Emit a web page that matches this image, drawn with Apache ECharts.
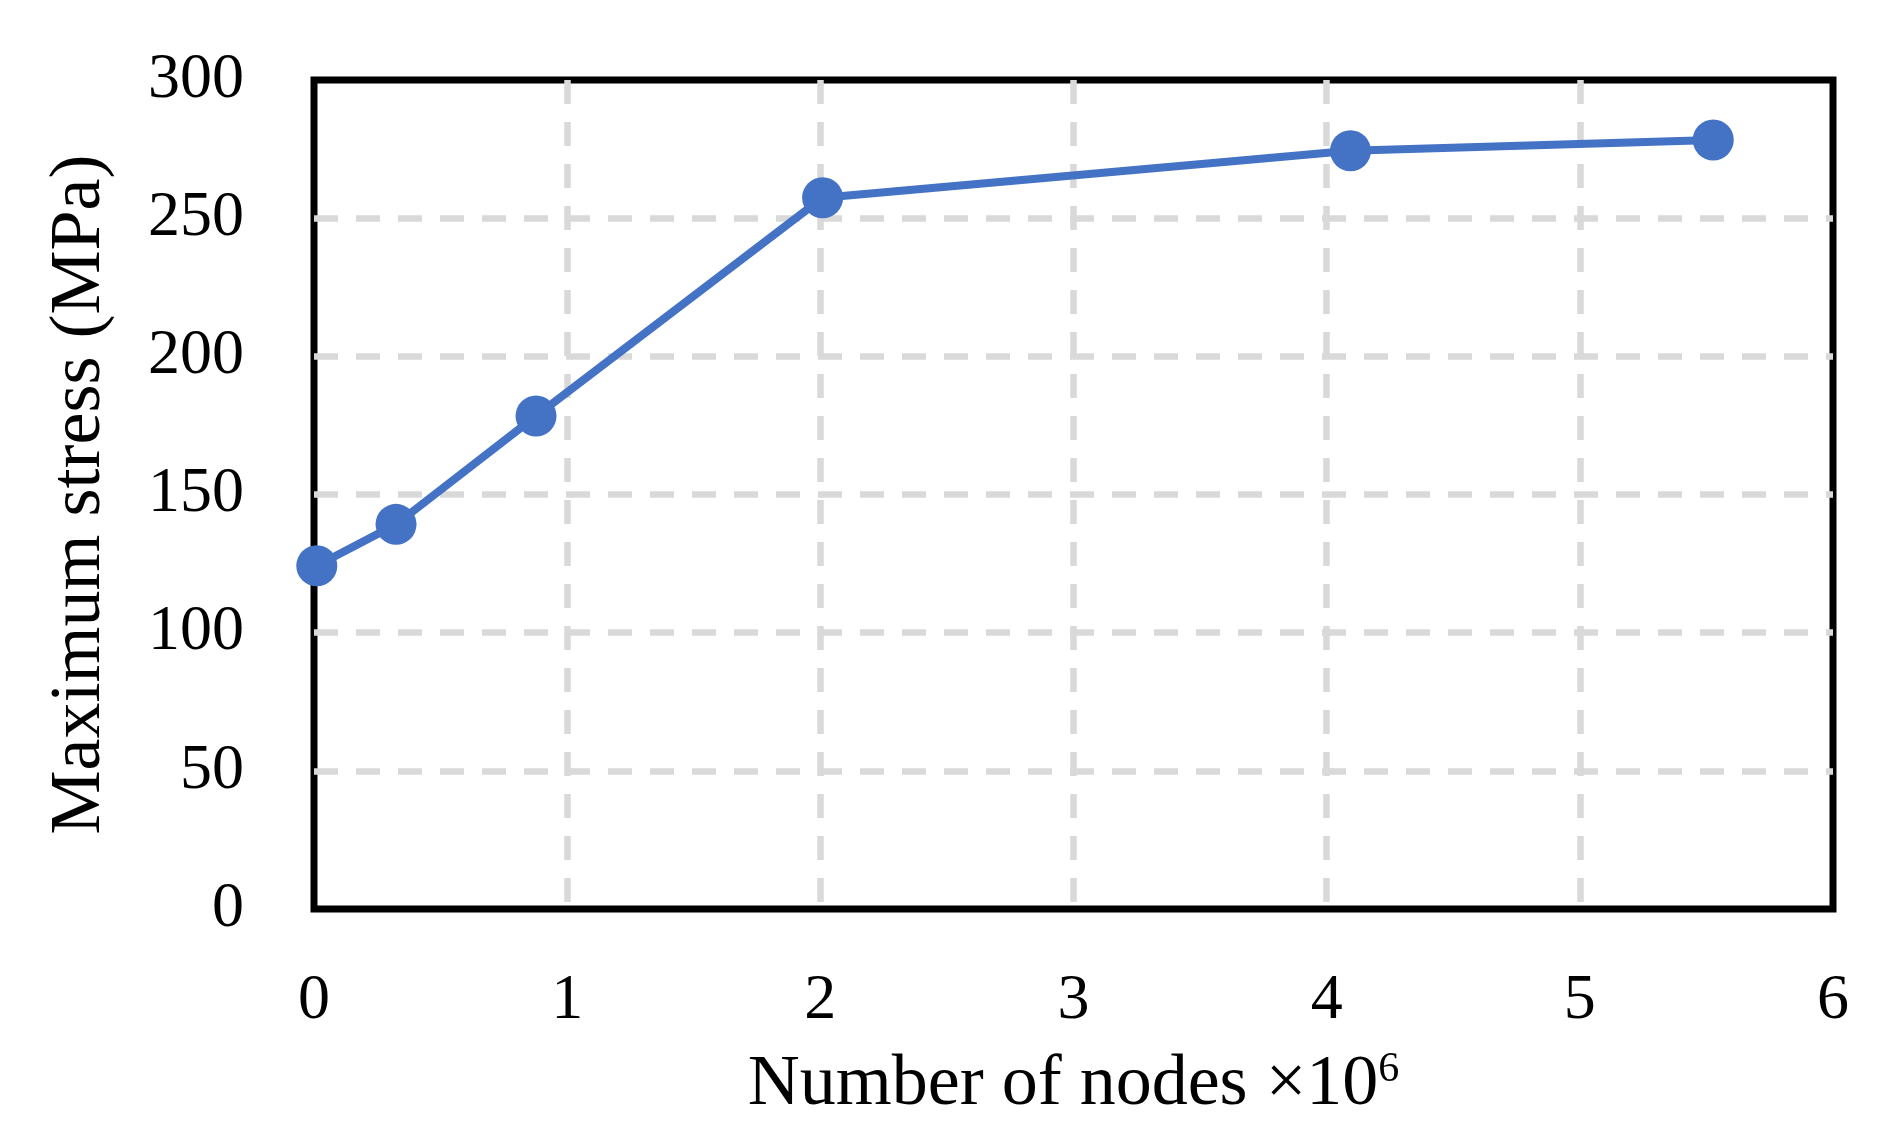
<!DOCTYPE html>
<html>
<head>
<meta charset="utf-8">
<script src="https://cdn.jsdelivr.net/npm/echarts@6/dist/echarts.min.js"></script>
<style>
  html, body { margin: 0; padding: 0; background: #fff; }
  #chart { width: 1879px; height: 1142px; }
</style>
</head>
<body>
<div id="chart"></div>
<script>
// mesh size (million nodes) vs. max stress
const nodes = [0.011, 0.324, 0.877, 2.009, 4.094, 5.527]
const stress = [124.2, 139.2, 178.4, 257.4, 274.4, 278.3]
const xTicks = [0, 1, 2, 3, 4, 5, 6]
const yTicks = [0, 50, 100, 150, 200, 250, 300]

const chart = echarts.init(document.getElementById('chart'))
const font = '"Liberation Serif", "DejaVu Serif", serif'

chart.setOption({
  backgroundColor: '#ffffff',
  animation: false,
  grid: {
    left: 314,
    right: 46,
    top: 80,
    bottom: 233,
    show: true,
    borderColor: '#000000',
    borderWidth: 7
  },
  xAxis: {
    type: 'value',
    min: xTicks[0],
    max: xTicks[xTicks.length - 1],
    interval: 1,
    name: '{n|Number of nodes ×10}{s|6}',
    nameLocation: 'middle',
    nameGap: 140,
    nameTextStyle: {
      rich: {
        n: { fontFamily: font, fontSize: 72, color: '#000' },
        s: { fontFamily: font, fontSize: 42, color: '#000', verticalAlign: 'top' }
      }
    },
    axisLine: { show: false },
    axisTick: { show: false },
    axisLabel: {
      margin: 60,
      fontFamily: font,
      fontSize: 64,
      color: '#000'
    },
    splitLine: {
      show: true,
      showMinLine: false,
      showMaxLine: false,
      lineStyle: { color: '#d9d9d9', width: 6.5, type: [24, 18] }
    }
  },
  yAxis: {
    type: 'value',
    min: yTicks[0],
    max: yTicks[yTicks.length - 1],
    interval: 50,
    name: 'Maximum stress (MPa)',
    nameLocation: 'middle',
    nameRotate: 90,
    nameGap: 198,
    nameTextStyle: {
      fontFamily: font,
      fontSize: 72,
      color: '#000'
    },
    axisLine: { show: false },
    axisTick: { show: false },
    axisLabel: {
      margin: 70,
      fontFamily: font,
      fontSize: 64,
      color: '#000'
    },
    splitLine: {
      show: true,
      showMinLine: false,
      showMaxLine: false,
      lineStyle: { color: '#d9d9d9', width: 6.5, type: [24, 18] }
    }
  },
  series: [{
    type: 'line',
    data: nodes.map((x, i) => [x, stress[i]]),
    symbol: 'circle',
    symbolSize: 41,
    showSymbol: true,
    lineStyle: { color: '#4472c4', width: 8 },
    itemStyle: { color: '#4472c4' },
    z: 5
  }]
})
</script>
</body>
</html>
